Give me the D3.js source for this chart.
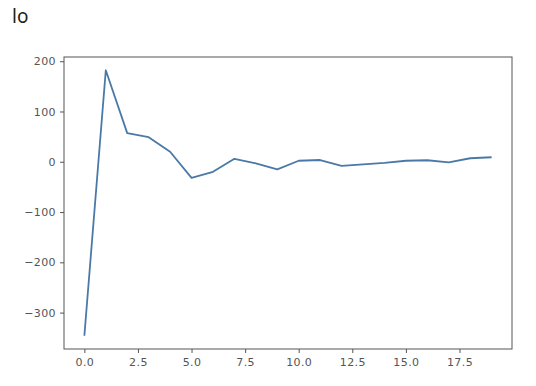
<!DOCTYPE html>
<html>
<head>
<meta charset="utf-8">
<script src="https://cdn.jsdelivr.net/npm/d3@7"></script>
<style>
  body { margin: 0; background: #fff; }
  svg text { font-family: "DejaVu Sans", "Noto Sans", sans-serif; }
</style>
</head>
<body>
<div id="chart"></div>
<script>
// data
var steps = [0, 1, 2, 3, 4, 5, 6, 7, 8, 9, 10, 11, 12, 13, 14, 15, 16, 17, 18, 19];
var values = [-346, 182, 57, 49, 20, -32, -20, 6, -3, -15, 2, 3.5, -8, -5, -2, 2, 3, -1, 7, 9];
var xTicks = [0, 2.5, 5, 7.5, 10, 12.5, 15, 17.5];
var yTicks = [-300, -200, -100, 0, 100, 200];

var width = 536, height = 386;
var plotLeft = 64, plotRight = 512, plotTop = 57, plotBottom = 349;

var svg = d3.select("#chart")
  .append("svg")
  .attr("width", width)
  .attr("height", height);

// title
svg.append("text")
  .text("lo")
  .attr("x", 12)
  .attr("y", 23)
  .style("font-family", "'Noto Sans', sans-serif")
  .style("font-size", "19px")
  .style("fill", "#222");

var x = d3.scaleLinear()
  .domain([-0.95, 19.95])
  .range([plotLeft, plotRight]);

var y = d3.scaleLinear()
  .domain([-372.4, 208.4])
  .range([plotBottom, plotTop]);

// y axis
var yAxis = svg.append("g")
  .attr("transform", "translate(" + plotLeft + ",0)")
  .call(d3.axisLeft(y).tickValues(yTicks).tickSize(4).tickPadding(4)
    .tickFormat(function(d) { return d < 0 ? "\u2212" + Math.abs(d) : d; }));

// x axis
var xAxis = svg.append("g")
  .attr("transform", "translate(0," + plotBottom + ")")
  .call(d3.axisBottom(x).tickValues(xTicks).tickSize(4).tickPadding(5)
    .tickFormat(d3.format(".1f")));

[xAxis, yAxis].forEach(function(a) {
  a.select(".domain").remove();
  a.selectAll("line").attr("stroke", "#555");
  a.selectAll("text")
    .attr("fill", "#555")
    .style("font-size", "11px")
    .style("letter-spacing", "0.4px")
    .style("font-family", "'DejaVu Sans', sans-serif");
});

// frame
svg.append("rect")
  .attr("x", plotLeft)
  .attr("y", plotTop)
  .attr("width", plotRight - plotLeft)
  .attr("height", plotBottom - plotTop)
  .attr("fill", "none")
  .attr("stroke", "#555")
  .attr("stroke-width", 1);

// the line
var line = d3.line()
  .x(function(d, i) { return x(steps[i]); })
  .y(function(d) { return y(d); });

svg.append("path")
  .datum(values)
  .attr("d", line)
  .attr("fill", "none")
  .attr("stroke", "#4a79a7")
  .attr("stroke-width", 1.8)
  .attr("stroke-linejoin", "round");
</script>
</body>
</html>
